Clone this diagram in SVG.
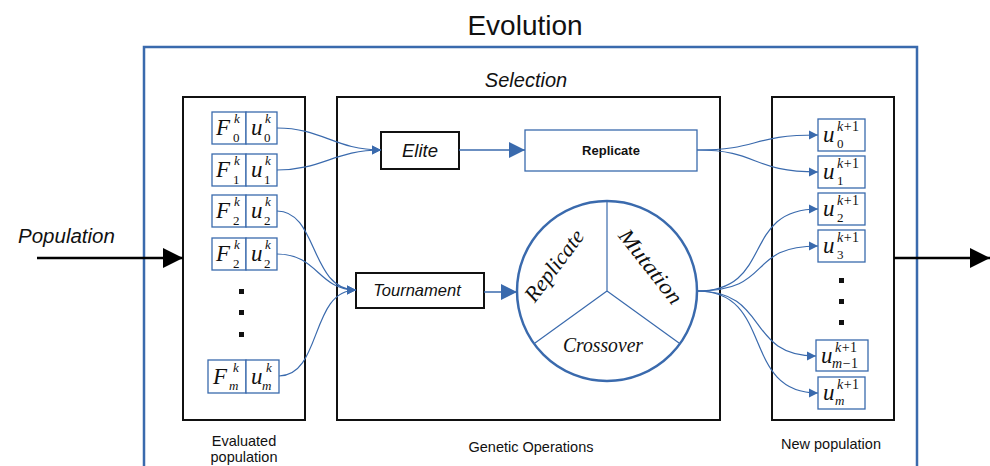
<svg xmlns="http://www.w3.org/2000/svg" width="990" height="466" viewBox="0 0 990 466">
<style>
.sans{font-family:"Liberation Sans",Arial,sans-serif;fill:#111}
.it{font-style:italic}
.ser{font-family:"Liberation Serif","DejaVu Serif",serif;fill:#111}
.blk{fill:#fff;stroke:#111;stroke-width:2}
.cell{fill:#fff;stroke:#3a6aad;stroke-width:1.3}
.con{fill:none;stroke:#3a6aad;stroke-width:1.2}
.big{fill:none;stroke:#3a6aad;stroke-width:1.5}
.m{font-size:23px;font-style:italic}
.s{font-size:13px}
.si{font-size:13px;font-style:italic}
.sup{font-size:14px;letter-spacing:0.5px}
.dot{fill:#111}
</style>
<defs>
<marker id="ah" markerUnits="userSpaceOnUse" markerWidth="10" markerHeight="10" refX="9" refY="5" orient="auto"><path d="M0,0.5 L9,5 L0,9.5 Z" fill="#3a6aad"/></marker>
<marker id="ahb" markerUnits="userSpaceOnUse" markerWidth="17" markerHeight="16" refX="16" refY="8" orient="auto"><path d="M0,0 L16,8 L0,16 Z" fill="#3a6aad"/></marker>
<marker id="ahk" markerUnits="userSpaceOnUse" markerWidth="21" markerHeight="22" refX="20" refY="11" orient="auto"><path d="M0,1 L20,11 L0,21 Z" fill="#000"/></marker>
</defs>

<text class="sans" x="525" y="35" font-size="28" text-anchor="middle">Evolution</text>
<g id="evolution"><path d="M144,470 L144,47 L917,47 L917,470" fill="none" stroke="#3a6aad" stroke-width="2.5"/></g>
<text class="sans it" x="526" y="87" font-size="20" text-anchor="middle">Selection</text>

<g id="evaluated">
<rect class="blk" x="183" y="97" width="122" height="323"/>
<text class="sans" x="244" y="446" font-size="14.5" text-anchor="middle">Evaluated</text>
<text class="sans" x="244" y="462" font-size="14.5" text-anchor="middle">population</text>
</g>
<g id="genetic">
<rect class="blk" x="337" y="97" width="383" height="323"/>
<text class="sans" x="531" y="452" font-size="14.5" text-anchor="middle">Genetic Operations</text>
</g>
<g id="newpop">
<rect class="blk" x="772" y="97" width="122" height="323"/>
<text class="sans" x="831" y="449" font-size="14.5" text-anchor="middle">New population</text>
</g>

<g id="cell0">
<rect class="cell" x="212" y="112" width="34" height="32"/><rect class="cell" x="246" y="112" width="31" height="32"/>
<text class="ser m" x="216" y="135">F</text><text class="ser si" x="234" y="123">k</text><text class="ser s" x="233" y="142">0</text>
<text class="ser m" x="251" y="135">u</text><text class="ser si" x="265" y="123">k</text><text class="ser s" x="264" y="142">0</text>
</g>
<g id="cell1">
<rect class="cell" x="212" y="154" width="34" height="32"/><rect class="cell" x="246" y="154" width="31" height="32"/>
<text class="ser m" x="216" y="177">F</text><text class="ser si" x="234" y="165">k</text><text class="ser s" x="233" y="184">1</text>
<text class="ser m" x="251" y="177">u</text><text class="ser si" x="265" y="165">k</text><text class="ser s" x="264" y="184">1</text>
</g>
<g id="cell2">
<rect class="cell" x="212" y="195" width="34" height="32"/><rect class="cell" x="246" y="195" width="31" height="32"/>
<text class="ser m" x="216" y="218">F</text><text class="ser si" x="234" y="206">k</text><text class="ser s" x="233" y="225">2</text>
<text class="ser m" x="251" y="218">u</text><text class="ser si" x="265" y="206">k</text><text class="ser s" x="264" y="225">2</text>
</g>
<g id="cell3">
<rect class="cell" x="212" y="238" width="34" height="32"/><rect class="cell" x="246" y="238" width="31" height="32"/>
<text class="ser m" x="216" y="261">F</text><text class="ser si" x="234" y="249">k</text><text class="ser s" x="233" y="268">2</text>
<text class="ser m" x="251" y="261">u</text><text class="ser si" x="265" y="249">k</text><text class="ser s" x="264" y="268">2</text>
</g>
<g id="leftdots"><rect class="dot" x="239" y="289" width="5" height="5"/><rect class="dot" x="239" y="310" width="5" height="5"/><rect class="dot" x="239" y="332" width="5" height="5"/></g>
<g id="cellm">
<rect class="cell" x="208" y="360" width="38" height="33"/><rect class="cell" x="246" y="360" width="33" height="33"/>
<text class="ser m" x="213" y="384">F</text><text class="ser si" x="233" y="372">k</text><text class="ser si" x="229" y="390">m</text>
<text class="ser m" x="251" y="384">u</text><text class="ser si" x="266" y="372">k</text><text class="ser si" x="262" y="390">m</text>
</g>

<g id="elite"><rect class="blk" x="381" y="132" width="78" height="37" stroke-width="1.8"/>
<text class="sans it" x="420" y="157" font-size="18.5" text-anchor="middle">Elite</text></g>
<g id="replicate"><rect class="cell" x="525" y="130" width="172" height="41" stroke-width="1.8"/>
<text class="sans" x="611" y="155" font-size="13" font-weight="bold" text-anchor="middle">Replicate</text></g>
<g id="tournament"><rect class="blk" x="356" y="273" width="128" height="35" stroke-width="1.8"/>
<text class="sans it" x="417" y="296" font-size="16.5" text-anchor="middle">Tournament</text></g>

<g id="operators">
<circle cx="607" cy="291" r="90" fill="#fff" stroke="#3a6aad" stroke-width="2.5"/>
<path d="M607,291 L607,201 M607,291 L535,343 M607,291 L679,343" stroke="#3a6aad" stroke-width="1.2" fill="none"/>
<text class="ser" transform="translate(560,270) rotate(-53)" font-size="22" font-style="italic" text-anchor="middle" textLength="84" lengthAdjust="spacingAndGlyphs">Replicate</text>
<text class="ser" transform="translate(645,271) rotate(52)" font-size="22" font-style="italic" text-anchor="middle" textLength="89" lengthAdjust="spacingAndGlyphs">Mutation</text>
<text class="ser" x="603" y="352" font-size="22" font-style="italic" text-anchor="middle" textLength="80" lengthAdjust="spacingAndGlyphs">Crossover</text>
</g>

<g id="ncell0"><rect class="cell" x="818" y="119" width="47" height="32"/>
<text class="ser m" x="823" y="142">u</text><text class="ser sup" x="837" y="131"><tspan font-style="italic">k</tspan>+1</text><text class="ser s" x="837" y="148">0</text></g>
<g id="ncell1"><rect class="cell" x="818" y="156" width="47" height="32"/>
<text class="ser m" x="823" y="179">u</text><text class="ser sup" x="837" y="168"><tspan font-style="italic">k</tspan>+1</text><text class="ser s" x="837" y="185">1</text></g>
<g id="ncell2"><rect class="cell" x="818" y="193" width="47" height="32"/>
<text class="ser m" x="823" y="216">u</text><text class="ser sup" x="837" y="205"><tspan font-style="italic">k</tspan>+1</text><text class="ser s" x="837" y="222">2</text></g>
<g id="ncell3"><rect class="cell" x="818" y="230" width="47" height="32"/>
<text class="ser m" x="823" y="253">u</text><text class="ser sup" x="837" y="242"><tspan font-style="italic">k</tspan>+1</text><text class="ser s" x="837" y="259">3</text></g>
<g id="rightdots"><rect class="dot" x="839" y="278" width="5" height="5"/><rect class="dot" x="839" y="299" width="5" height="5"/><rect class="dot" x="839" y="320" width="5" height="5"/></g>
<g id="ncellm1"><rect class="cell" x="816" y="340" width="52" height="31"/>
<text class="ser m" x="821" y="363">u</text><text class="ser sup" x="835" y="352"><tspan font-style="italic">k</tspan>+1</text><text class="ser sup" x="832" y="368"><tspan font-style="italic">m</tspan>−1</text></g>
<g id="ncellm"><rect class="cell" x="818" y="377" width="47" height="32"/>
<text class="ser m" x="823" y="400">u</text><text class="ser sup" x="837" y="389"><tspan font-style="italic">k</tspan>+1</text><text class="ser si" x="835" y="405">m</text></g>

<g id="connectors">
<path class="con" d="M277,128 C322,128 335,150 381,150" marker-end="url(#ah)"/>
<path class="con" d="M277,170 C322,170 335,150 381,150" marker-end="url(#ah)"/>
<path class="con" d="M277,211 C318,211 310,290 356,290" marker-end="url(#ah)"/>
<path class="con" d="M277,254 C318,254 318,290 356,290" marker-end="url(#ah)"/>
<path class="con" d="M279,376 C322,376 310,290 356,290" marker-end="url(#ah)"/>
<path class="big" d="M459,150 L525,150" marker-end="url(#ahb)"/>
<path class="big" d="M484,292 L517,292" marker-end="url(#ahb)"/>
<path class="con" d="M697,150 C760,150 750,135 818,135" marker-end="url(#ah)"/>
<path class="con" d="M697,150 C760,150 750,172 818,172" marker-end="url(#ah)"/>
<path class="con" d="M697,291 C775,291 740,209 818,209" marker-end="url(#ah)"/>
<path class="con" d="M697,291 C775,291 745,246 818,246" marker-end="url(#ah)"/>
<path class="con" d="M697,291 C770,291 745,356 816,356" marker-end="url(#ah)"/>
<path class="con" d="M697,291 C775,291 740,393 818,393" marker-end="url(#ah)"/>
<path d="M37,258 L183,258" stroke="#000" stroke-width="2.5" fill="none" marker-end="url(#ahk)"/>
<path d="M894,258 L990,258" stroke="#000" stroke-width="2.5" fill="none" marker-end="url(#ahk)"/>
</g>
<text class="sans it" x="18" y="243" font-size="20.5">Population</text>
</svg>
